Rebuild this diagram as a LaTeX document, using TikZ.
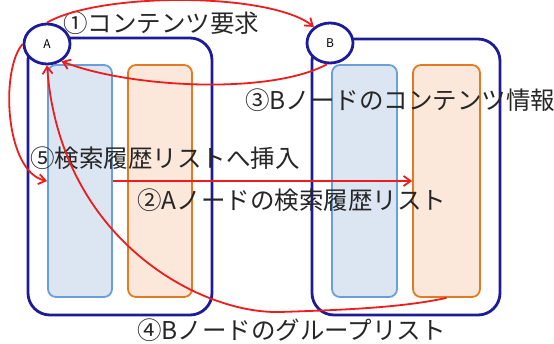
\documentclass[tikz,border=0pt]{standalone}
\usepackage{fontspec}
\setmainfont{Noto Sans CJK JP}
\usetikzlibrary{shapes.geometric,arrows.meta}
\definecolor{navy}{HTML}{1C1C9A}
\definecolor{lbfill}{HTML}{DCE5F2}
\definecolor{lbdraw}{HTML}{6B9FD9}
\definecolor{lofill}{HTML}{FBE8DB}
\definecolor{lodraw}{HTML}{E27A22}
\definecolor{arrred}{HTML}{EE1C1C}
\tikzset{
  container/.style={draw=navy, line width=2.8pt, rounded corners=22pt, inner sep=0pt},
  bluebox/.style={draw=lbdraw, fill=lbfill, line width=1.8pt, rounded corners=8pt, inner sep=0pt},
  orangebox/.style={draw=lodraw, fill=lofill, line width=1.8pt, rounded corners=8pt, inner sep=0pt},
  peer/.style={ellipse, draw=navy, fill=white, line width=2.8pt, minimum width=46pt, minimum height=40pt, inner sep=0pt, font=\fontsize{12}{14}\selectfont},
  redarrow/.style={draw=arrred, line width=1.8pt, -{Straight Barb[length=7pt,width=10pt]}},
  label/.style={anchor=west, inner sep=0pt, font=\fontsize{24.5}{28}\selectfont, text=black!85}
}
\begin{document}
\begin{tikzpicture}[x=1pt,y=-1pt]
\useasboundingbox (0,0) rectangle (554,343);
% containers
\node[container, minimum width=184pt, minimum height=277pt] (CA) at (120,176.5) {};
\node[container, minimum width=188pt, minimum height=276pt] (CB) at (406,177) {};
% lists
\node[bluebox, minimum width=64pt, minimum height=232pt] (LB) at (80,181) {};
\node[orangebox, minimum width=64pt, minimum height=232pt] (LO) at (160,181) {};
\node[bluebox, minimum width=65pt, minimum height=232pt] (RB) at (364.5,181) {};
\node[orangebox, minimum width=67pt, minimum height=232pt] (RO) at (446.5,181) {};
% peers
\node[peer] (A) at (47,44) {A};
\node[peer] (B) at (330,43) {B};
% labels
\node[label] (L1) at (63,23) {①コンテンツ要求};
\node[label] (L3) at (245,100) {③Bノードのコンテンツ情報};
\node[label] (L5) at (30,158) {⑤検索履歴リストへ挿入};
\node[label] (L2) at (137,200) {②Aノードの検索履歴リスト};
\node[label] (L4) at (137,330) {④Bノードのグループリスト};
% arrows
\draw[redarrow] (A.90) .. controls (100,-8) and (270,-8) .. (B.135);
\draw[redarrow] (B.262) .. controls (270,95) and (130,88) .. (A.-50);
\draw[redarrow] (A.180) .. controls (0,70) and (5,172) .. (LB.west);
\draw[redarrow] (LB.east) -- (RO.west);
\draw[redarrow] (RO.south) .. controls (400,308) and (340,310) .. (280,312)
                 .. controls (200,314) and (60,240) .. (A.270);
\end{tikzpicture}
\end{document}
